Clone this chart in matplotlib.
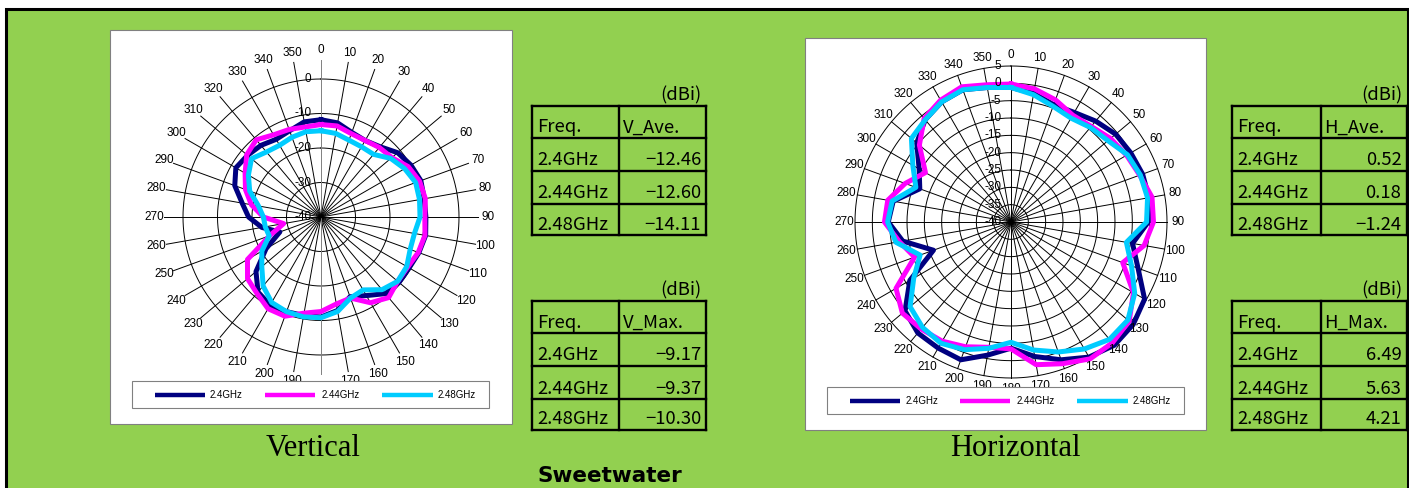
import numpy as np
import matplotlib.pyplot as plt
from matplotlib.patches import Rectangle
from matplotlib.transforms import offset_copy

W, H = 1409, 488

# ---- data ----
angles = np.arange(0, 360, 10)
freqs = ['2.4GHz', '2.44GHz', '2.48GHz']
colors = ['#000080', '#FF00FF', '#00CCFF']

# vertical pattern (dBi), 0..350 deg
v_24 = [-11.8, -12.3, -13.9, -14.4, -13.4, -11.0, -9.9, -9.2, -9.6, -9.6, -9.2, -9.8,
        -10.5, -10.5, -11.0, -13.7, -15.4, -12.5, -11.0, -11.0, -10.8, -10.5, -11.6, -15.4,
        -21.6, -27.3, -22.6, -19.0, -16.8, -13.4, -11.5, -12.2, -12.9, -14.0, -13.4, -12.0]
v_244 = [-13.2, -13.2, -14.3, -14.4, -13.7, -13.2, -10.8, -9.6, -9.3, -9.9, -9.4, -10.0,
         -11.0, -11.0, -9.5, -11.3, -15.0, -14.4, -12.6, -11.7, -9.4, -9.3, -11.1, -12.2,
         -15.4, -24.2, -29.0, -23.3, -19.5, -16.7, -14.6, -11.9, -10.8, -12.5, -13.0, -13.5]
v_248 = [-15.0, -15.4, -16.3, -16.5, -16.3, -13.6, -12.0, -10.8, -11.0, -11.3, -12.5, -12.5,
         -11.3, -11.0, -12.5, -15.6, -15.0, -12.2, -10.8, -10.6, -10.8, -11.4, -13.9, -17.6,
         -20.2, -24.0, -23.6, -23.3, -21.6, -18.0, -15.7, -13.7, -15.4, -16.0, -15.4, -14.9]

# horizontal pattern (dBi), 0..350 deg
h_24 = [-1.2, -2.3, -4.0, -3.5, -2.0, -0.6, -0.1, 0.4, 0.4, -0.4, -4.4, -1.0,
        4.5, 6.0, 6.4, 5.0, 2.3, -0.6, -3.6, -1.0, 2.3, 2.0, 1.8, -0.1,
        -6.3, -16.2, -8.3, -4.6, -5.5, -12.0, -9.4, -4.5, -1.5, 0.0, 0.6, -0.6]
h_244 = [-0.2, -1.0, -2.5, -4.4, -4.0, -2.5, -1.5, -0.5, 1.3, 1.1, -1.0, -5.7,
         0.8, 4.5, 5.5, 5.6, 3.5, 1.8, -3.4, -3.3, -1.7, -0.3, 0.3, 0.9,
         -1.7, -10.4, -7.3, -3.5, -3.9, -7.5, -11.5, -5.5, -1.0, 0.6, 1.5, 0.2]
h_248 = [-1.2, -2.7, -4.5, -5.4, -4.4, -3.5, -1.2, -0.3, 0.0, -0.9, -6.2, -3.0,
         1.2, 4.0, 4.2, 2.3, -0.1, -2.5, -5.3, -3.0, -0.8, 0.4, -0.3, -2.0,
         -7.6, -12.1, -6.3, -4.4, -5.2, -10.8, -7.3, -2.5, -1.5, 0.0, 0.6, -0.6]

v_ave = [-12.46, -12.60, -14.11]
v_max = [-9.17, -9.37, -10.30]
h_ave = [0.52, 0.18, -1.24]
h_max = [6.49, 5.63, 4.21]

GREEN = '#92D050'
GREY = '#808080'

fig = plt.figure(figsize=(W / 100, H / 100), dpi=100)
fig.patch.set_facecolor('white')


def frac(x0, y0, x1, y1):
    return [x0 / W, 1 - y1 / H, (x1 - x0) / W, (y1 - y0) / H]


bg = fig.add_axes([0, 0, 1, 1], zorder=0)
bg.set_xlim(0, W)
bg.set_ylim(H, 0)
bg.axis('off')

fg = fig.add_axes([0, 0, 1, 1], zorder=5)
fg.set_xlim(0, W)
fg.set_ylim(H, 0)
fg.axis('off')
fg.patch.set_alpha(0)

# green panel with black frame
bg.add_patch(Rectangle((5.5, 8.5), 1402.5, 500, fc=GREEN, ec='black', lw=2.2, clip_on=False))
# white chart areas
bg.add_patch(Rectangle((110, 30), 402, 394, fc='white', ec=GREY, lw=0.8))
bg.add_patch(Rectangle((805, 38), 401, 392, fc='white', ec=GREY, lw=0.8))

lab_font = 'Liberation Sans'


def polar_chart(cx, cy, ppd, rmax, rings, ticks, series, axis_col, hide=()):
    rlim = 10
    half = (rlim + 40) * ppd
    ax = fig.add_axes(frac(cx - half, cy - half, cx + half, cy + half),
                      projection='polar', zorder=2)
    ax.set_theta_zero_location('N')
    ax.set_theta_direction(-1)
    ax.set_ylim(-40, rlim)
    ax.set_xticks([])
    ax.set_yticks([])
    ax.grid(False)
    ax.spines['polar'].set_visible(False)
    ax.patch.set_alpha(0)

    t = np.linspace(0, 2 * np.pi, 361)
    for r in rings:
        ax.plot(t, np.full_like(t, r), color='black', lw=0.7)
    for a in angles:
        c = axis_col if a in (0, 180) else 'black'
        ax.plot([np.deg2rad(a)] * 2, [-40, rmax], color=c, lw=0.7)

    rl = -40 + 167 / ppd
    for a in angles:
        if a in hide:
            continue
        ax.text(np.deg2rad(a), rl, str(a), ha='center', va='center',
                fontsize=8.5, family=lab_font)

    tr = offset_copy(ax.transData, fig=fig, x=-7, y=0, units='points')
    for v in ticks:
        ax.text(0, v, str(v), transform=tr, ha='right', va='center',
                fontsize=8.5, family=lab_font)

    th = np.deg2rad(np.append(angles, angles[0]))
    for vals, col in zip(series, colors):
        r = np.append(vals, vals[0])
        ax.plot(th, r, color=col, lw=3.6)
    return ax


polar_chart(321, 217, 3.45, 5.5, [-30, -20, -10, 0], [0, -10, -20, -30, -40],
            [v_24, v_244, v_248], GREY, hide=(180,))
polar_chart(1011, 222, 156 / 45, 5, list(range(-35, 6, 5)), list(range(5, -41, -5)),
            [h_24, h_244, h_248], 'black')


def legend(x0, y0, x1, y1, lines, texts):
    fg.add_patch(Rectangle((x0, y0), x1 - x0, y1 - y0, fc='white', ec=GREY, lw=0.8))
    yc = (y0 + y1) / 2
    for (a, b), tx, f, col in zip(lines, texts, freqs, colors):
        fg.plot([a, b], [yc, yc], color=col, lw=3.2, solid_capstyle='butt')
        fg.text(tx, yc, f, ha='left', va='center', fontsize=7, family=lab_font)


legend(132, 381, 489, 408, [(155, 205), (265, 315), (382, 433)], [210, 322, 438])
legend(827, 387, 1184, 414, [(850, 900), (960, 1010), (1077, 1128)], [906, 1017, 1133])

tab_font = ['Noto Sans CJK JP', 'DejaVu Sans']


def fmt(v):
    return f'{v:.2f}'.replace('-', '\u2212')


def table(x0, xm, x1, ys, head, vals):
    lw = 1.7
    for y in ys:
        bg.plot([x0, x1], [y, y], color='black', lw=lw, solid_capstyle='projecting')
    for x in (x0, xm, x1):
        bg.plot([x, x], [ys[0], ys[-1]], color='black', lw=lw, solid_capstyle='projecting')
    bg.text(x1 - 4, ys[0] - 5, '(dBi)', ha='right', va='baseline', fontsize=13.3, family=tab_font)
    rows = [('Freq.', head)] + [(f, fmt(v)) for f, v in zip(freqs, vals)]
    for i, (a, b) in enumerate(rows):
        yb = ys[i + 1] - 5.5
        bg.text(x0 + 5, yb, a, ha='left', va='baseline', fontsize=13.3, family=tab_font)
        if i == 0:
            bg.text(xm + 4, yb, b, ha='left', va='baseline', fontsize=13.3, family=tab_font)
        else:
            bg.text(x1 - 5, yb, b, ha='right', va='baseline', fontsize=13.3, family=tab_font)


top_rows = [105.5, 138, 170.5, 204, 235]
bot_rows = [300.5, 333, 365.5, 399, 430]
table(532, 619, 706, top_rows, 'V_Ave.', v_ave)
table(532, 619, 706, bot_rows, 'V_Max.', v_max)
table(1232, 1320.5, 1406.5, top_rows, 'H_Ave.', h_ave)
table(1232, 1320.5, 1406.5, bot_rows, 'H_Max.', h_max)

bg.text(313, 456, 'Vertical', ha='center', va='baseline', fontsize=22, family='Liberation Serif')
bg.text(1015, 456, 'Horizontal', ha='center', va='baseline', fontsize=22, family='Liberation Serif')
bg.text(610, 466, 'Sweetwater', ha='center', va='top', fontsize=15.5, fontweight='bold',
        family='DejaVu Sans')

fig.savefig('out.png', dpi=100)
